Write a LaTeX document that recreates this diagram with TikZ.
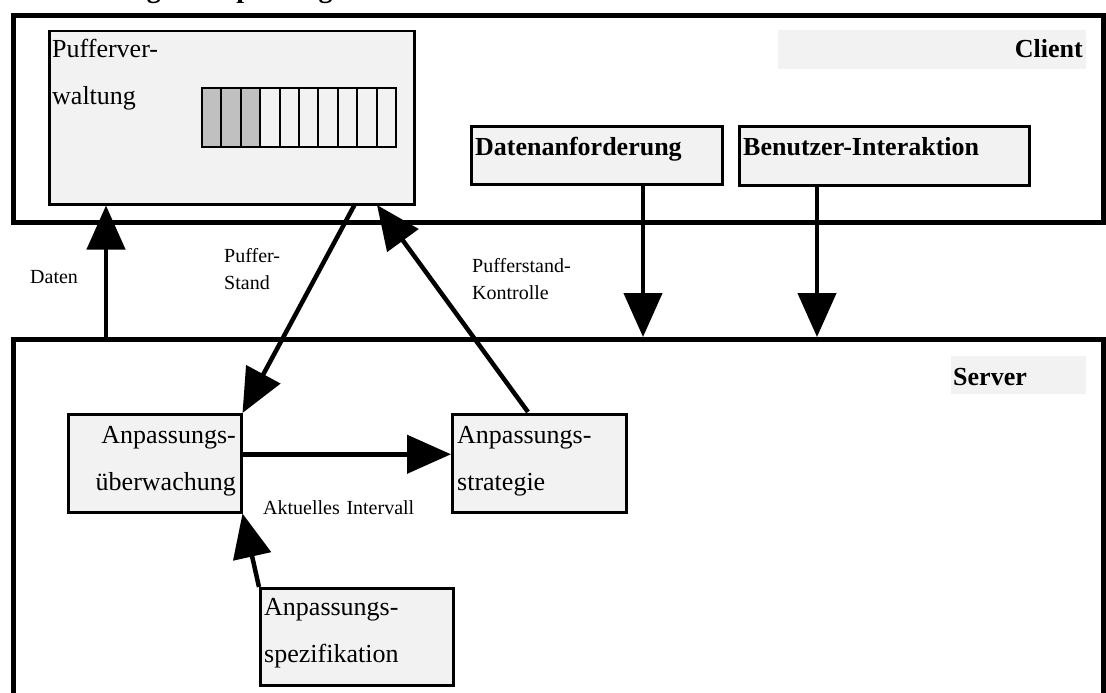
\documentclass[tikz,border=0pt]{standalone}
\usepackage{fontspec}
\setmainfont{Liberation Serif}
\usepackage{xcolor}
\usetikzlibrary{arrows.meta, positioning}
\definecolor{boxgray}{HTML}{F2F2F2}
\definecolor{cellgray}{HTML}{C0C0C0}

\begin{document}
\begin{tikzpicture}[
    x=1pt, y=-1pt,
    frame/.style={rectangle, draw, line width=5pt, anchor=north west, inner sep=0pt},
    tag/.style={rectangle, fill=boxgray, anchor=north west, inner sep=0pt},
    box/.style={rectangle, draw, fill=boxgray, line width=2.5pt, anchor=north west, inner sep=0pt},
    cell/.style={rectangle, draw, line width=2pt, anchor=north west, inner sep=0pt,
                 minimum width=19.4pt, minimum height=59pt},
    head/.style={anchor=base west, inner sep=0pt, font=\fontsize{26}{30}\selectfont\bfseries},
    txt/.style={inner sep=0pt, font=\fontsize{26}{47}\selectfont, text width=#1, align=left},
    lbl/.style={inner sep=0pt, font=\fontsize{20}{27}\selectfont, text width=#1, align=left,
                anchor=base west},
    flow/.style={line width=4.5pt, -{Triangle[length=44pt, width=38pt]}},
]
\useasboundingbox[fill=white] (0,0) rectangle (1106,693);

\node[anchor=base west, inner sep=0pt, font=\fontsize{28}{32}\selectfont\bfseries] (title) at (33,-2)
    {Abbildung 3: Anpassungsmechanismus};

% client
\node[frame, minimum width=1090pt, minimum height=207pt] (client) at (11,13) {};
\node[tag, minimum width=308pt, minimum height=39pt] (clienttag) at (778,30) {};
\node[head, anchor=base east] (clienttxt) at (1083,58) {Client};

\node[box, minimum width=365pt, minimum height=173pt] (pv) at (48,30) {};
\node[txt=200pt, anchor=base west] (pvtxt) at (52,58) {Pufferver-\\waltung};
\foreach \i in {0,1,2}
    \node[cell, fill=cellgray] (cell\i) at ({201+19.4*\i},87) {};
\foreach \i in {3,...,9}
    \node[cell, fill=boxgray] (cell\i) at ({201+19.4*\i},87) {};

\node[box, minimum width=251pt, minimum height=58pt] (dan) at (470,125) {};
\node[head] (dantxt) at (475,155) {Datenanforderung};
\node[box, minimum width=290pt, minimum height=59pt] (bi) at (738,125) {};
\node[head] (bitxt) at (743,155) {Benutzer-Interaktion};

% server
\node[frame, minimum width=1090pt, minimum height=400pt] (server) at (11,337) {};
\node[tag, minimum width=135pt, minimum height=38pt] (servertag) at (951,356) {};
\node[head] (servertxt) at (953,385) {Server};

\node[box, minimum width=173pt, minimum height=98pt] (ue) at (67,413) {};
\node[txt=170pt, align=right, anchor=base east] (uetxt) at (236,443) {Anpassungs-\\überwachung};
\node[box, minimum width=174pt, minimum height=98pt] (st) at (451,413) {};
\node[txt=170pt, anchor=base west] (sttxt) at (457,443) {Anpassungs-\\strategie};
\node[box, minimum width=193pt, minimum height=97pt] (sp) at (259,587) {};
\node[txt=190pt, anchor=base west] (sptxt) at (264,615) {Anpassungs-\\spezifikation};

% connectors
\coordinate (datfoot) at (106,337);
\coordinate (danfoot) at (643,220);
\coordinate (bifoot) at (817,220);
\coordinate (pvout) at (355,204);
\coordinate (pvin) at (377,205);
\coordinate (stout) at (528,412);

\draw[flow] (datfoot |- server.north) -- (datfoot |- pv.south);
\draw[flow] (danfoot |- dan.south) -- (danfoot |- server.north);
\draw[flow] (bifoot |- bi.south) -- (bifoot |- server.north);
\draw[flow] (pvout) -- (ue.north east);
\draw[flow] (stout) -- (pvin);
\draw[flow] ([yshift=9pt]ue.east) -- ([yshift=9pt]st.west);
\draw[flow] (sp.north west) -- (ue.south east);

\node[lbl=80pt] (datenlbl) at (30,283) {Daten};
\node[lbl=80pt] (standlbl) at (224,262) {Puffer-\\Stand};
\node[lbl=120pt] (kontrlbl) at (472,272) {Pufferstand-\\Kontrolle};
\node[lbl=200pt] (intlbl) at (263,514) {Aktuelles Intervall};
\end{tikzpicture}
\end{document}
